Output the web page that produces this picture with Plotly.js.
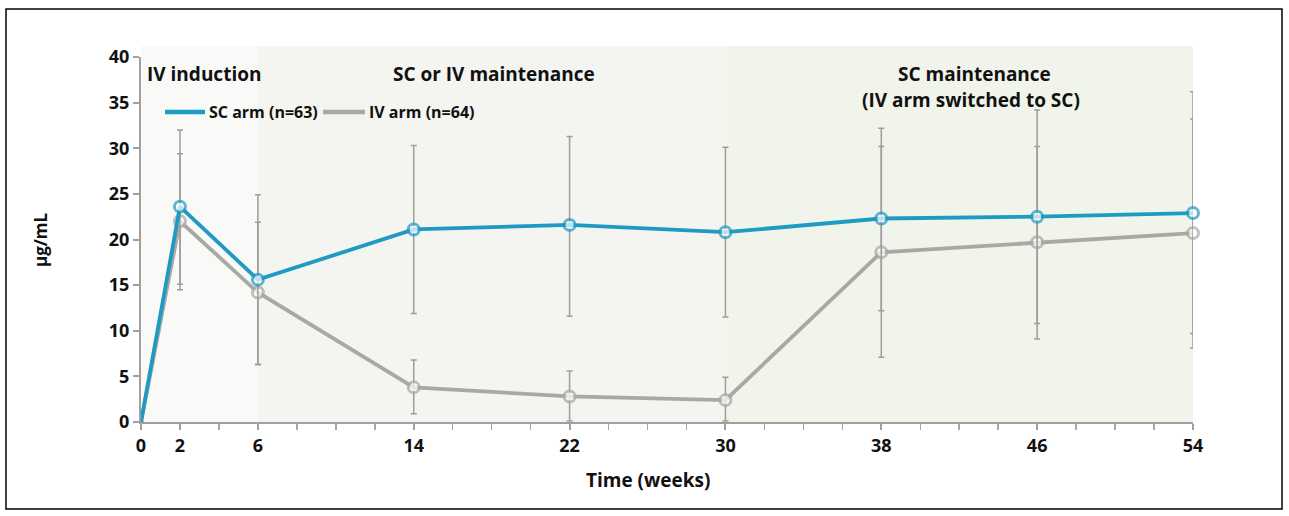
<!DOCTYPE html>
<html>
<head>
<meta charset="utf-8">
<script src="https://cdn.plot.ly/plotly-3.0.1.min.js"></script>
<style>html,body{margin:0;padding:0;background:#fff;}#chart{width:1289px;height:516px;}</style>
</head>
<body>
<div id="chart"></div>
<script>
// ---- data ----
const weeks = [0, 2, 6, 14, 22, 30, 38, 46, 54];
const tickWeeks = [0, 2, 6, 14, 22, 30, 38, 46, 54];
const yTicks = [0, 5, 10, 15, 20, 25, 30, 35, 40];
const scMean  = [0, 23.6, 15.6, 21.1, 21.6, 20.8, 22.3, 22.5, 22.9];
const scUpper = [0, 32.0, 24.9, 30.3, 31.3, 30.1, 32.2, 34.2, 36.2];
const scLower = [0, 14.5, 6.3, 11.9, 11.6, 11.5, 12.2, 10.8, 9.7];
const ivMean  = [0, 22.0, 14.2, 3.8, 2.8, 2.4, 18.6, 19.7, 20.7];
const ivUpper = [0, 29.4, 21.9, 6.8, 5.6, 4.9, 30.2, 30.2, 33.2];
const ivLower = [0, 15.1, 6.3, 0.9, 0.1, 0.1, 7.1, 9.1, 8.1];
const seriesNames = ['SC arm (n=63)', 'IV arm (n=64)'];
const phaseLabels = ['IV induction', 'SC or IV maintenance', 'SC maintenance', '(IV arm switched to SC)'];
const xTitle = 'Time (weeks)';
const yTitle = 'µg/mL';

const blue = '#1f9ac3';
const grey = '#a8a8a5';
const fontFam = '"Open Sans", "Noto Sans", sans-serif';

function plus(u, m) { return u.map((v, i) => v - m[i]); }
function minus(l, m) { return l.map((v, i) => m[i] - v); }
const markerSizes = weeks.map(w => (w === 0 ? 0 : 11));

const traces = [
  {
    x: weeks, y: ivMean, mode: 'lines+markers', name: seriesNames[1], showlegend: false,
    line: {color: grey, width: 3.8},
    marker: {symbol: 'circle', size: markerSizes, color: '#ffffff', line: {color: grey, width: 3}},
    error_y: {type: 'data', symmetric: false, array: plus(ivUpper, ivMean), arrayminus: minus(ivLower, ivMean),
              color: '#9d9d9a', thickness: 1.5, width: 3},
    cliponaxis: false
  },
  {
    x: weeks, y: scMean, mode: 'lines+markers', name: seriesNames[0], showlegend: false,
    line: {color: blue, width: 3.8},
    marker: {symbol: 'circle', size: markerSizes, color: '#ffffff', line: {color: blue, width: 3}},
    error_y: {type: 'data', symmetric: false, array: plus(scUpper, scMean), arrayminus: minus(scLower, scMean),
              color: '#9d9d9a', thickness: 1.5, width: 3},
    cliponaxis: false
  }
];

const L = 141, R = 96, T = 57, B = 94, W = 1289, H = 516;
const pw = W - L - R, ph = H - T - B;
const px = p => (p - L) / pw;
const py = p => (H - B - p) / ph;

const shapes = [
  {type: 'rect', xref: 'x', yref: 'paper', x0: 0, x1: 6, y0: 0, y1: py(46), fillcolor: '#f9f9f8', line: {width: 0}, layer: 'below'},
  {type: 'rect', xref: 'x', yref: 'paper', x0: 6, x1: 30, y0: 0, y1: py(46), fillcolor: '#f4f4f1', line: {width: 0}, layer: 'below'},
  {type: 'rect', xref: 'x', yref: 'paper', x0: 30, x1: 55.1, y0: 0, y1: py(46), fillcolor: '#f1f4ea', line: {width: 0}, layer: 'below'},
  {type: 'rect', xref: 'paper', yref: 'paper', x0: px(6), x1: px(1282), y0: py(509), y1: py(9), line: {color: '#000', width: 1.5}, fillcolor: 'rgba(0,0,0,0)'},
  // legend keys
  {type: 'line', xref: 'paper', yref: 'paper', x0: px(165), x1: px(205), y0: py(112), y1: py(112), line: {color: blue, width: 4.5}},
  {type: 'line', xref: 'paper', yref: 'paper', x0: px(323), x1: px(365), y0: py(112), y1: py(112), line: {color: grey, width: 4.5}}
];

const annFont = {family: fontFam, size: 19, color: '#111'};
const legFont = {family: fontFam, size: 16, color: '#111'};
const annotations = [
  {xref: 'paper', yref: 'paper', x: px(145), y: py(74), text: '<b>' + phaseLabels[0] + '</b>', showarrow: false, xanchor: 'left', yanchor: 'middle', font: annFont},
  {xref: 'x', yref: 'paper', x: 18.1, y: py(74), text: '<b>' + phaseLabels[1] + '</b>', showarrow: false, xanchor: 'center', yanchor: 'middle', font: annFont},
  {xref: 'x', yref: 'paper', x: 42.8, y: py(74), text: '<b>' + phaseLabels[2] + '</b>', showarrow: false, xanchor: 'center', yanchor: 'middle', font: annFont},
  {xref: 'x', yref: 'paper', x: 42.6, y: py(100), text: '<b>' + phaseLabels[3] + '</b>', showarrow: false, xanchor: 'center', yanchor: 'middle', font: annFont},
  {xref: 'paper', yref: 'paper', x: px(207), y: py(112), text: '<b>' + seriesNames[0] + '</b>', showarrow: false, xanchor: 'left', yanchor: 'middle', font: legFont},
  {xref: 'paper', yref: 'paper', x: px(367), y: py(112), text: '<b>' + seriesNames[1] + '</b>', showarrow: false, xanchor: 'left', yanchor: 'middle', font: legFont},
  {xref: 'paper', yref: 'paper', x: px(648), y: py(480), text: '<b>' + xTitle + '</b>', showarrow: false, xanchor: 'center', yanchor: 'middle', font: annFont},
  {xref: 'paper', yref: 'paper', x: px(40), y: py(240), text: '<b>' + yTitle + '</b>', showarrow: false, xanchor: 'center', yanchor: 'middle', textangle: -90, font: {family: fontFam, size: 17, color: '#111'}}
];

const layout = {
  width: W, height: H,
  margin: {l: L, r: R, t: T, b: B, pad: 0},
  paper_bgcolor: '#ffffff', plot_bgcolor: 'rgba(0,0,0,0)',
  showlegend: false,
  font: {family: fontFam, color: '#111'},
  xaxis: {
    range: [0, 54], tickmode: 'array', tickvals: tickWeeks, ticktext: tickWeeks.map(v => '<b>' + v + '</b>'),
    showgrid: false, zeroline: false, showline: true, linecolor: '#a0a0a0', linewidth: 2,
    ticks: 'outside', ticklen: 6, tickwidth: 2, tickcolor: '#a0a0a0',
    minor: {tickmode: 'linear', tick0: 0, dtick: 2, ticks: 'outside', ticklen: 6, tickwidth: 1.5, tickcolor: '#a8a8a8', showgrid: false},
    tickfont: {size: 18, color: '#111'}
  },
  yaxis: {
    range: [0, 40], tickmode: 'array', tickvals: yTicks, ticktext: yTicks.map(v => '<b>' + v + '</b>'),
    showgrid: false, zeroline: false, showline: true, linecolor: '#a0a0a0', linewidth: 2,
    ticks: 'outside', ticklen: 6, tickwidth: 2, tickcolor: '#a0a0a0',
    tickfont: {size: 18, color: '#111'}
  },
  shapes: shapes,
  annotations: annotations
};

Plotly.newPlot('chart', traces, layout, {displayModeBar: false, staticPlot: true});
</script>
</body>
</html>
